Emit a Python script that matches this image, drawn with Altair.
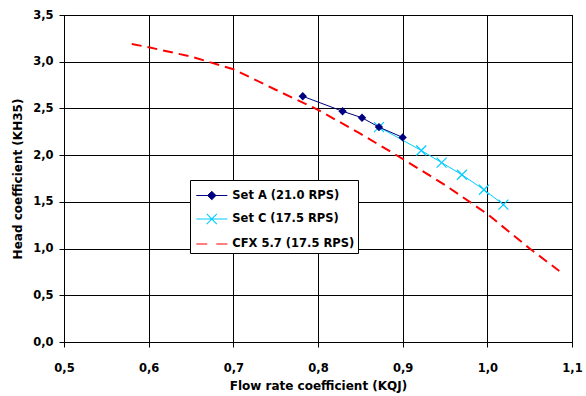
import altair as alt
import pandas as pd

# ---- data ----
series_names = ["Set A (21.0 RPS)", "Set C (17.5 RPS)", "CFX 5.7 (17.5 RPS)"]
series_colors = ["#000080", "#00CCFF", "#FF0000"]

setA_x = [0.782, 0.829, 0.852, 0.872, 0.900]
setA_y = [2.63, 2.47, 2.40, 2.30, 2.19]

setC_x = [0.872, 0.922, 0.946, 0.970, 0.996, 1.019]
setC_y = [2.30, 2.05, 1.92, 1.79, 1.63, 1.47]

cfx_x = [0.58, 0.60, 0.65, 0.70, 0.75, 0.80, 0.85, 0.90, 0.95, 1.00, 1.05, 1.085]
cfx_y = [3.19, 3.155, 3.055, 2.92, 2.70, 2.485, 2.23, 1.96, 1.68, 1.37, 1.00, 0.76]

x_ticks = [0.5, 0.6, 0.7, 0.8, 0.9, 1.0, 1.1]
y_ticks = [0.0, 0.5, 1.0, 1.5, 2.0, 2.5, 3.0, 3.5]

# legend symbols: line + marker glyphs as custom SVG paths
legend_paths = [
    "M-0.81,0L1.78,0M0.483,-0.35L0.833,0L0.483,0.35L0.133,0Z",
    "M-0.81,0L1.78,0M0.063,-0.42L0.903,0.42M0.063,0.42L0.903,-0.42",
    "M-0.81,0L0.107,0M0.857,0L1.78,0",
]
legend_widths = [1, 1.2, 2]

df_a = pd.DataFrame({"x": setA_x, "y": setA_y, "series": series_names[0]})
df_c = pd.DataFrame({"x": setC_x, "y": setC_y, "series": series_names[1]})
df_f = pd.DataFrame({"x": cfx_x, "y": cfx_y, "series": series_names[2]})
df_all = pd.concat([df_a, df_c, df_f], ignore_index=True)

FONT = "DejaVu Sans"
comma_expr = "replace(format(datum.value, '.1f'), '.', ',')"

x_enc = alt.X(
    "x:Q",
    scale=alt.Scale(domain=[0.5, 1.1], nice=False, zero=False),
    axis=alt.Axis(
        values=x_ticks, labelExpr=comma_expr, title="Flow rate coefficient (KQJ)",
        labelPadding=15, titlePadding=7,
    ),
)
y_enc = alt.Y(
    "y:Q",
    scale=alt.Scale(domain=[0, 3.5], nice=False, zero=False),
    axis=alt.Axis(
        values=y_ticks, labelExpr=comma_expr, title="Head coefficient (KH35)",
        labelPadding=6, titlePadding=8,
    ),
)

line_cfx = alt.Chart(df_f).mark_line(
    color="#FF0000", strokeWidth=2, strokeDash=[10, 6]
).encode(x=x_enc, y=y_enc)

line_c = alt.Chart(df_c).mark_line(color="#00CCFF", strokeWidth=1).encode(x=x_enc, y=y_enc)
pts_c = alt.Chart(df_c).mark_point(
    shape="M-1,-1L1,1M-1,1L1,-1", size=100, color="#00CCFF", strokeWidth=1.2, opacity=1
).encode(x=x_enc, y=y_enc)

line_a = alt.Chart(df_a).mark_line(color="#000080", strokeWidth=1).encode(x=x_enc, y=y_enc)
pts_a = alt.Chart(df_a).mark_point(
    shape="diamond", size=70, filled=True, color="#000080", opacity=1
).encode(x=x_enc, y=y_enc)

leg = alt.Legend(title=None, symbolSize=576, labelLimit=0)
legend_layer = alt.Chart(df_all).transform_filter("false").mark_point(
    filled=False, fill="#000080", opacity=1
).encode(
    x=x_enc,
    y=y_enc,
    color=alt.Color("series:N", scale=alt.Scale(domain=series_names, range=series_colors), legend=leg),
    shape=alt.Shape("series:N", scale=alt.Scale(domain=series_names, range=legend_paths), legend=leg),
    strokeWidth=alt.StrokeWidth("series:N", scale=alt.Scale(domain=series_names, range=legend_widths), legend=leg),
)

chart = alt.layer(line_cfx, line_c, pts_c, line_a, pts_a, legend_layer).properties(
    width=508,
    height=327,
    autosize=alt.AutoSizeParams(type="none"),
    padding={"left": 64, "top": 15, "right": 14, "bottom": 54},
    background="white",
).configure_view(
    stroke="black", strokeWidth=1
).configure_axis(
    grid=True, gridColor="black", gridWidth=1, gridOpacity=1,
    domainColor="black", domainWidth=1, tickColor="black", tickSize=5, tickWidth=1,
    labelFont=FONT, labelFontWeight="bold", labelFontSize=11.5, labelColor="black",
    titleFont=FONT, titleFontWeight="bold", titleFontSize=12, titleColor="black",
    labelFlush=False, labelOverlap=False, labelBound=False,
).configure_legend(
    orient="none", legendX=126, legendY=165,
    strokeColor="black", fillColor="white", padding=3, rowPadding=4,
    labelOffset=13.3, labelFont=FONT, labelFontWeight="bold", labelFontSize=11.5,
    labelColor="black", symbolSize=576, cornerRadius=0, labelLimit=0,
)

chart.save("out.html", embed_options={"renderer": "svg", "actions": False})
